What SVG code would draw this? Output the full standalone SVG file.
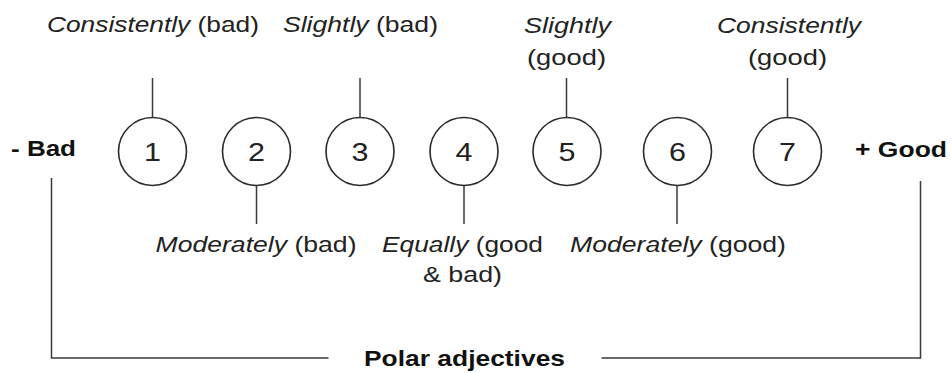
<svg xmlns="http://www.w3.org/2000/svg" width="951" height="373" viewBox="0 0 951 373">
  <style>
    .bg { fill: #ffffff; }
    .ring { fill: #ffffff; stroke: #2a2a2a; stroke-width: 1.6; }
    .num { font-family: "Liberation Sans", Arial, sans-serif; font-size: 25px; fill: #222; text-anchor: middle; }
    .lbl { font-family: "Liberation Sans", Arial, sans-serif; font-size: 22px; fill: #222; }
    .pole { font-family: "Liberation Sans", Arial, sans-serif; font-size: 22px; font-weight: bold; fill: #111; }
    .it { font-style: italic; }
    .wire { fill: none; stroke: #3a3a3a; stroke-width: 1.5; }
  </style>
  <rect class="bg" x="0" y="0" width="951" height="373"/>

  <!-- leader lines and the bracket underneath the scale -->
  <g id="connectors">
    <line class="wire" x1="152.5" y1="78" x2="152.5" y2="117"/>
    <line class="wire" x1="360" y1="78" x2="360" y2="117"/>
    <line class="wire" x1="566.5" y1="78" x2="566.5" y2="117"/>
    <line class="wire" x1="787.5" y1="78" x2="787.5" y2="117"/>
    <line class="wire" x1="256.5" y1="186" x2="256.5" y2="224"/>
    <line class="wire" x1="464" y1="186" x2="464" y2="224"/>
    <line class="wire" x1="677" y1="186" x2="677" y2="224"/>
    <path class="wire" d="M51.5,178 V358 H328.5"/>
    <path class="wire" d="M601.5,358 H920.5 V181"/>
  </g>

  <!-- scale points -->
  <g id="point-1">
    <circle class="ring" cx="152.5" cy="151.5" r="34"/>
    <text class="num" transform="translate(152.5,161) scale(1.22,1)">1</text>
  </g>
  <g id="point-2">
    <circle class="ring" cx="256.5" cy="151.5" r="34"/>
    <text class="num" transform="translate(256.5,161) scale(1.22,1)">2</text>
  </g>
  <g id="point-3">
    <circle class="ring" cx="360" cy="151.5" r="34"/>
    <text class="num" transform="translate(360,161) scale(1.22,1)">3</text>
  </g>
  <g id="point-4">
    <circle class="ring" cx="464" cy="151.5" r="34"/>
    <text class="num" transform="translate(464,161) scale(1.22,1)">4</text>
  </g>
  <g id="point-5">
    <circle class="ring" cx="567" cy="151.5" r="34"/>
    <text class="num" transform="translate(567,161) scale(1.22,1)">5</text>
  </g>
  <g id="point-6">
    <circle class="ring" cx="677.5" cy="151.5" r="34"/>
    <text class="num" transform="translate(677.5,161) scale(1.22,1)">6</text>
  </g>
  <g id="point-7">
    <circle class="ring" cx="787.5" cy="151.5" r="34"/>
    <text class="num" transform="translate(787.5,161) scale(1.22,1)">7</text>
  </g>

  <!-- pole labels -->
  <g id="pole-bad">
    <text class="pole" x="11" y="156" textLength="65" lengthAdjust="spacingAndGlyphs">- Bad</text>
  </g>
  <g id="pole-good">
    <text class="pole" x="855" y="157" textLength="92" lengthAdjust="spacingAndGlyphs">+ Good</text>
  </g>

  <!-- degree labels above -->
  <g id="label-1">
    <text class="lbl" x="47" y="32" textLength="212" lengthAdjust="spacingAndGlyphs"><tspan class="it">Consistently</tspan> (bad)</text>
  </g>
  <g id="label-3">
    <text class="lbl" x="283" y="32" textLength="155" lengthAdjust="spacingAndGlyphs"><tspan class="it">Slightly</tspan> (bad)</text>
  </g>
  <g id="label-5">
    <text class="lbl it" x="524" y="33" textLength="87" lengthAdjust="spacingAndGlyphs">Slightly</text>
    <text class="lbl" x="527" y="65" textLength="79" lengthAdjust="spacingAndGlyphs">(good)</text>
  </g>
  <g id="label-7">
    <text class="lbl it" x="717" y="33" textLength="144" lengthAdjust="spacingAndGlyphs">Consistently</text>
    <text class="lbl" x="748" y="65" textLength="79" lengthAdjust="spacingAndGlyphs">(good)</text>
  </g>

  <!-- degree labels below -->
  <g id="label-2">
    <text class="lbl" x="155.5" y="252" textLength="201" lengthAdjust="spacingAndGlyphs"><tspan class="it">Moderately</tspan> (bad)</text>
  </g>
  <g id="label-4">
    <text class="lbl" x="382" y="252" textLength="161" lengthAdjust="spacingAndGlyphs"><tspan class="it">Equally</tspan> (good</text>
    <text class="lbl" x="423" y="282" textLength="79" lengthAdjust="spacingAndGlyphs">&amp; bad)</text>
  </g>
  <g id="label-6">
    <text class="lbl" x="570" y="252" textLength="216" lengthAdjust="spacingAndGlyphs"><tspan class="it">Moderately</tspan> (good)</text>
  </g>

  <!-- bracket caption -->
  <g id="caption">
    <text class="pole" x="364" y="366" textLength="201" lengthAdjust="spacingAndGlyphs">Polar adjectives</text>
  </g>
</svg>
